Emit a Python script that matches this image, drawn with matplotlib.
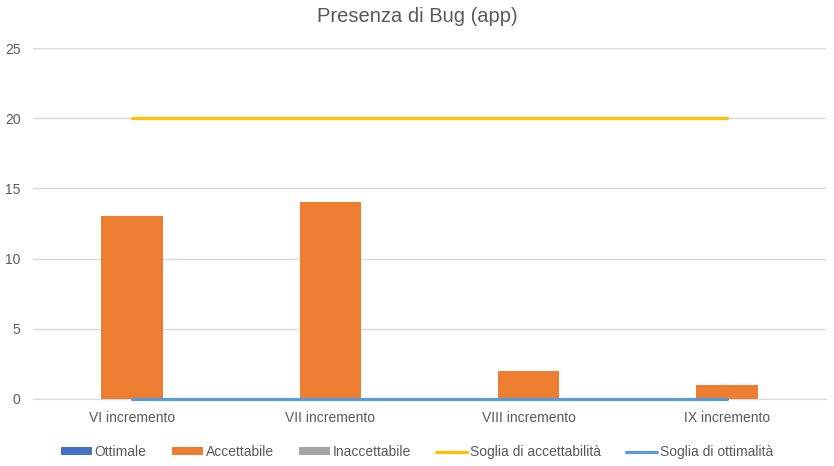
import numpy as np
import matplotlib
matplotlib.use("Agg")
import matplotlib.pyplot as plt

# data
categories = ["VI incremento", "VII incremento", "VIII incremento", "IX incremento"]
ottimale = [0, 0, 0, 0]
accettabile = [13, 14, 2, 1]
inaccettabile = [0, 0, 0, 0]
soglia_accettabilita = [20, 20, 20, 20]
soglia_ottimalita = [0, 0, 0, 0]
yticks = [0, 5, 10, 15, 20, 25]

plt.rcParams["font.family"] = ["Liberation Sans", "DejaVu Sans"]
grey_txt = "#595959"

fig = plt.figure(figsize=(8.34, 4.66), dpi=100)
ax = fig.add_axes([33 / 834, 67 / 466, 793 / 834, 351 / 466])

x = np.arange(len(categories))
w = 0.31
b1 = ax.bar(x - w, ottimale, w, color="#4472C4", label="Ottimale", zorder=2)
b2 = ax.bar(x, accettabile, w, color="#ED7D31", label="Accettabile", zorder=2)
b3 = ax.bar(x + w, inaccettabile, w, color="#A5A5A5", label="Inaccettabile", zorder=2)
l1, = ax.plot(x, soglia_accettabilita, color="#FFC000", lw=2.3,
              solid_capstyle="round", label="Soglia di accettabilità", zorder=3)
l2, = ax.plot(x, soglia_ottimalita, color="#5B9BD5", lw=2.3,
              solid_capstyle="round", label="Soglia di ottimalità", zorder=4,
              clip_on=False)

ax.set_xlim(-0.5, len(categories) - 0.5)
ax.set_ylim(0, 25)
ax.set_yticks(yticks)
ax.set_xticks(x)
ax.set_xticklabels(categories)
ax.yaxis.grid(True, color="#D9D9D9", lw=1)
ax.set_axisbelow(True)
for s in ["top", "right", "left"]:
    ax.spines[s].set_visible(False)
ax.spines["bottom"].set_color("#D9D9D9")
ax.tick_params(axis="both", length=0, labelsize=10, colors=grey_txt)
ax.tick_params(axis="x", pad=9)
ax.tick_params(axis="y", pad=9)

fig.text(0.5, 1 - 16 / 466, "Presenza di Bug (app)", ha="center", va="center",
         fontsize=14.5, color=grey_txt)

fig.legend([b1, b2, b3, l1, l2],
           ["Ottimale", "Accettabile", "Inaccettabile",
            "Soglia di accettabilità", "Soglia di ottimalità"],
           loc="center", bbox_to_anchor=(0.5, 1 - 452 / 466), ncol=5,
           frameon=False, fontsize=10, handlelength=2.25, handleheight=0.5,
           handletextpad=0.2, columnspacing=1.8, labelcolor=grey_txt)

fig.savefig("out.png", dpi=100)
